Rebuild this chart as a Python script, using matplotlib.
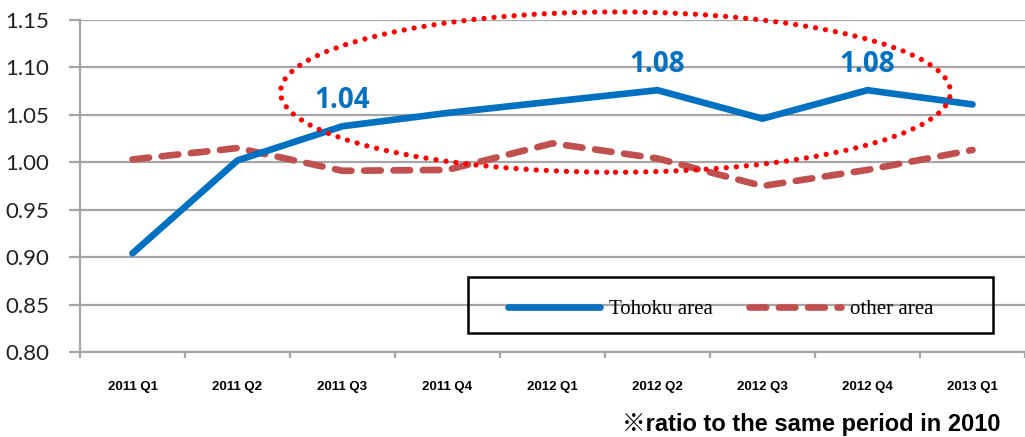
import matplotlib
matplotlib.use("Agg")
import matplotlib.pyplot as plt
from matplotlib.patches import Ellipse, Rectangle

# data
quarters = ["2011 Q1", "2011 Q2", "2011 Q3", "2011 Q4", "2012 Q1",
            "2012 Q2", "2012 Q3", "2012 Q4", "2013 Q1"]
tohoku = [0.904, 1.002, 1.038, 1.052, 1.064, 1.076, 1.046, 1.076, 1.061]
other = [1.003, 1.015, 0.991, 0.992, 1.020, 1.004, 0.975, 0.992, 1.013]
yticks = [0.80, 0.85, 0.90, 0.95, 1.00, 1.05, 1.10, 1.15]
labels_idx = [2, 5, 7]
labels_txt = ["1.04", "1.08", "1.08"]

blue = "#0070C0"
red = "#C0504D"
grey = "#A6A6A6"

fig = plt.figure(figsize=(10.25, 4.37), dpi=100)
ax = fig.add_axes([80 / 1025, 1 - 352 / 437, 1 - 80 / 1025, (352 - 20) / 437])

x = list(range(len(quarters)))
ax.plot(x, tohoku, color=blue, lw=4.8, solid_capstyle="round",
        solid_joinstyle="miter", label="Tohoku area", zorder=4)
ax.plot(x, other, color=red, lw=4.8, dashes=(2.5, 1.9), dash_capstyle="round",
        label="other area", zorder=3)

ax.set_xlim(-0.5, len(quarters) - 0.5)
ax.set_ylim(0.80, 1.15)
ax.set_yticks(yticks)
ax.set_yticklabels([f"{v:.2f}" for v in yticks], family="Lato", fontsize=16)
ax.yaxis.grid(True, color=grey, lw=1.6)
ax.set_axisbelow(True)

# x tick marks on the category boundaries, labels in the middle
ax.set_xticks([i - 0.5 for i in range(len(quarters) + 1)])
ax.set_xticklabels([])
ax.set_xticks(x, minor=True)
ax.set_xticklabels(quarters, minor=True, fontsize=9.5, fontweight="bold",
                   family="Liberation Sans")
ax.tick_params(axis="x", which="major", length=4, width=1.6, color=grey, direction="out")
ax.tick_params(axis="x", which="minor", length=0, pad=21)
ax.tick_params(axis="y", length=8, width=1.6, color=grey, pad=14, labelcolor="#222222")

for s in ["top", "right"]:
    ax.spines[s].set_visible(False)
for s in ["left", "bottom"]:
    ax.spines[s].set_color(grey)
    ax.spines[s].set_linewidth(1.6)

for i, t in zip(labels_idx, labels_txt):
    ax.annotate(t, (i, tohoku[i]), xytext=(0, 8), textcoords="offset points",
                ha="center", va="bottom", color=blue, fontsize=20,
                fontweight="bold", family="Open Sans")

ell = Ellipse((4.6, 1.074), 6.38, 0.169, fill=False, edgecolor="#FF0000",
              lw=3.8, linestyle=(0, (0.01, 1.9)), capstyle="round", zorder=5,
              clip_on=False)
ax.add_patch(ell)

# legend box drawn by hand, entries from the legend
fig.patches.append(Rectangle((468 / 1025, 1 - 333 / 437), 525 / 1025, 56 / 437,
                             transform=fig.transFigure, fill=False,
                             edgecolor="black", lw=1.8, zorder=6))
leg = fig.legend(loc="center left", bbox_to_anchor=(508 / 1025, 1 - 309 / 437),
                 ncol=2, frameon=False, handlelength=4.4, handletextpad=0.45,
                 columnspacing=1.75, borderpad=0, borderaxespad=0,
                 prop={"family": "Liberation Serif", "size": 15})

fig.text(1000 / 1025, 1 - 425 / 437, "※ratio to the same period in 2010",
         ha="right", va="center", fontsize=17, fontweight="bold",
         family=["Liberation Sans", "Noto Sans CJK JP"])

fig.savefig("out.png", dpi=100)
